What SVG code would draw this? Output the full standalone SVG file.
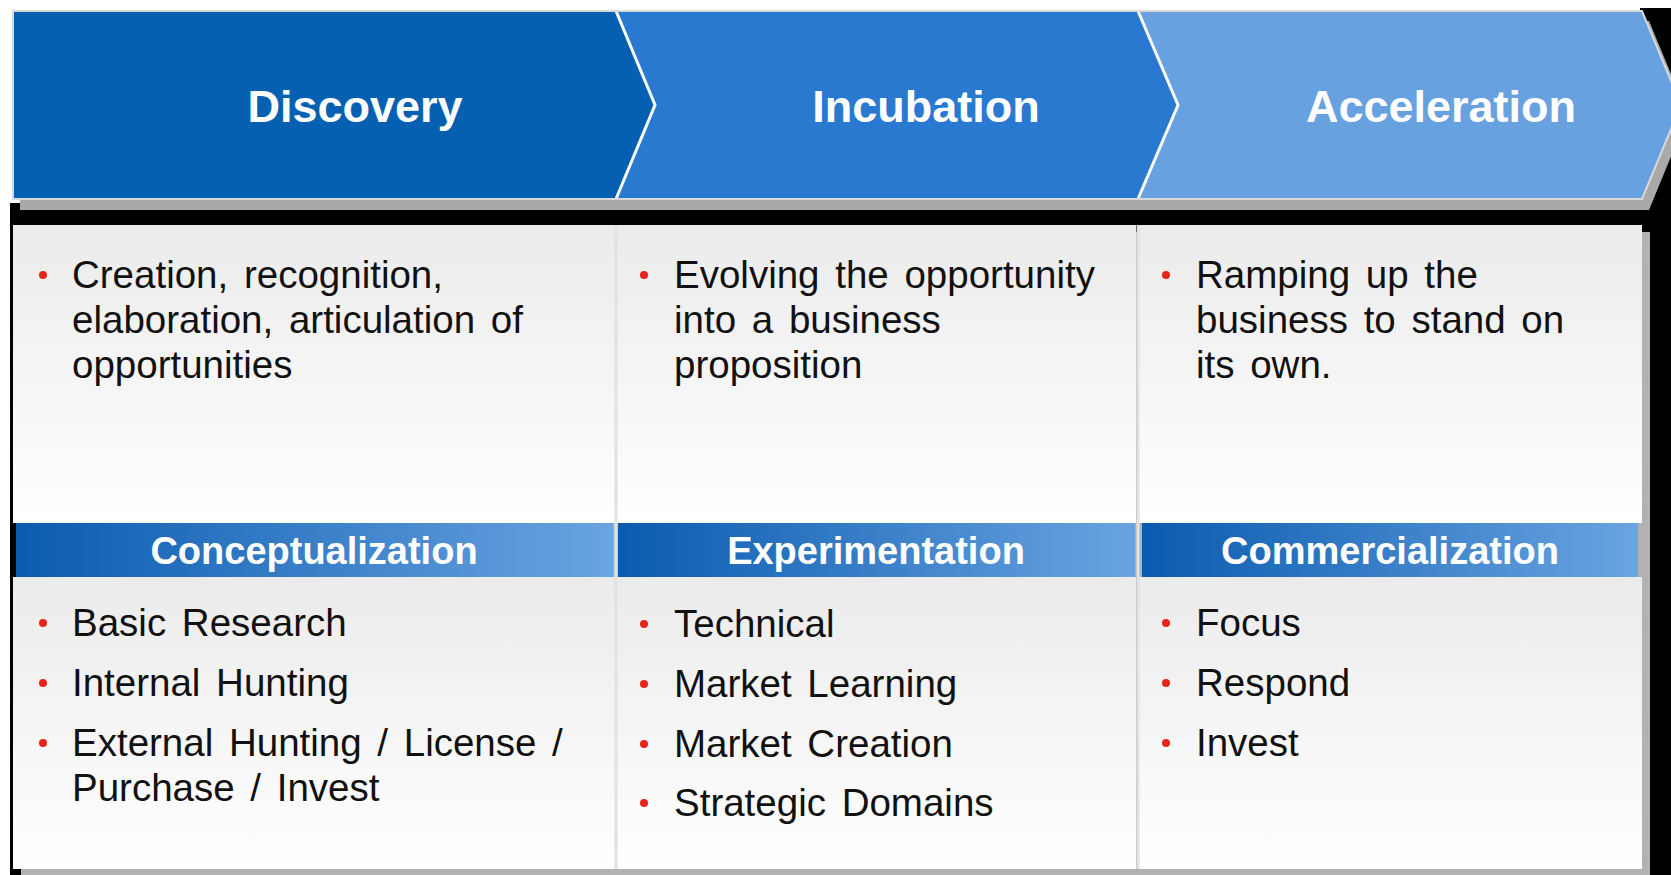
<svg xmlns="http://www.w3.org/2000/svg" width="1671" height="875" viewBox="0 0 1671 875">
  <defs>
    <linearGradient id="bodyGrad" x1="0" y1="0" x2="0" y2="1">
      <stop offset="0" stop-color="#ebebeb"/>
      <stop offset="1" stop-color="#ffffff"/>
    </linearGradient>
    <linearGradient id="subGrad" x1="0" y1="0" x2="1" y2="0">
      <stop offset="0" stop-color="#0a5bb0"/>
      <stop offset="1" stop-color="#6aa4e1"/>
    </linearGradient>
    <style>
      .hdr { font-family: "Liberation Sans", Arial, sans-serif; font-weight: bold; font-size: 45px; fill: #ffffff; text-anchor: middle; }
      .sub { font-family: "Liberation Sans", Arial, sans-serif; font-weight: bold; font-size: 38px; fill: #ffffff; text-anchor: middle; }
      .txt { font-family: "Liberation Sans", Arial, sans-serif; font-size: 38.5px; fill: #111111; word-spacing: 5px; }
      .bul { fill: #e8241a; }
      .sep { stroke: #ffffff; stroke-width: 3; fill: none; }
      .col { fill: url(#bodyGrad); }
      .band { fill: url(#subGrad); }
    </style>
  </defs>

  <rect x="0" y="0" width="1671" height="875" fill="#ffffff"/>
  <!-- dark backdrop -->
  <rect x="10" y="203" width="1661" height="672" fill="#000000"/>
  <rect x="1640" y="8" width="31" height="200" fill="#000000"/>

  <!-- header shadow -->
  <polygon points="20,21 1649,21 1688,115 1649,210 20,210" fill="#a9a9a9"/>
  <!-- body shadow -->
  <rect x="21" y="232" width="1629" height="643" fill="#b2b2b2"/>

  <g id="discovery">
    <polygon points="13,11 616,11 655,105 616,199 13,199" fill="#0560b2"/>
    <text class="hdr" x="355" y="122">Discovery</text>
  </g>
  <g id="incubation">
    <polygon points="616,11 1138,11 1178,105 1138,199 616,199 655,105" fill="#2a79d0"/>
    <text class="hdr" x="926" y="122">Incubation</text>
  </g>
  <g id="acceleration">
    <polygon points="1138,11 1642,11 1681,105 1642,199 1138,199 1178,105" fill="#67a1e0"/>
    <text class="hdr" x="1441" y="122">Acceleration</text>
  </g>
  <g id="header-separators">
    <polyline class="sep" points="616,11 655,105 616,199"/>
    <polyline class="sep" points="1138,11 1178,105 1138,199"/>
    <polygon points="13,11 1642,11 1681,105 1642,199 13,199" fill="none" stroke="#d8d8d8" stroke-width="2"/>
  </g>

  <!-- body columns -->
  <g id="col-discovery">
    <rect class="col" x="13" y="225" width="602" height="298"/>
    <rect class="col" x="13" y="577" width="602" height="292"/>
    <rect class="band" x="16" y="523" width="597" height="54"/>
    <text class="sub" x="314" y="564">Conceptualization</text>
    <circle class="bul" cx="43" cy="275" r="4"/>
    <text class="txt" x="72" y="288">Creation, recognition,</text>
    <text class="txt" x="72" y="333">elaboration, articulation of</text>
    <text class="txt" x="72" y="378">opportunities</text>
    <circle class="bul" cx="43" cy="623" r="4"/>
    <text class="txt" x="72" y="636">Basic Research</text>
    <circle class="bul" cx="43" cy="683" r="4"/>
    <text class="txt" x="72" y="696">Internal Hunting</text>
    <circle class="bul" cx="43" cy="743" r="4"/>
    <text class="txt" x="72" y="756">External Hunting / License /</text>
    <text class="txt" x="72" y="801">Purchase / Invest</text>
  </g>

  <g id="col-incubation">
    <rect class="col" x="617" y="225" width="519" height="298"/>
    <rect class="col" x="617" y="577" width="519" height="292"/>
    <rect class="band" x="618" y="523" width="517" height="54"/>
    <text class="sub" x="876" y="564">Experimentation</text>
    <circle class="bul" cx="644" cy="275" r="4"/>
    <text class="txt" x="674" y="288">Evolving the opportunity</text>
    <text class="txt" x="674" y="333">into a business</text>
    <text class="txt" x="674" y="378">proposition</text>
    <circle class="bul" cx="644" cy="624" r="4"/>
    <text class="txt" x="674" y="637">Technical</text>
    <circle class="bul" cx="644" cy="684" r="4"/>
    <text class="txt" x="674" y="697">Market Learning</text>
    <circle class="bul" cx="644" cy="744" r="4"/>
    <text class="txt" x="674" y="757">Market Creation</text>
    <circle class="bul" cx="644" cy="803" r="4"/>
    <text class="txt" x="674" y="816">Strategic Domains</text>
  </g>

  <g id="col-acceleration">
    <rect class="col" x="1139" y="225" width="503" height="298"/>
    <rect class="col" x="1139" y="577" width="503" height="292"/>
    <rect class="band" x="1142" y="523" width="496" height="54"/>
    <text class="sub" x="1390" y="564">Commercialization</text>
    <circle class="bul" cx="1166" cy="275" r="4"/>
    <text class="txt" x="1196" y="288">Ramping up the</text>
    <text class="txt" x="1196" y="333">business to stand on</text>
    <text class="txt" x="1196" y="378">its own.</text>
    <circle class="bul" cx="1166" cy="623" r="4"/>
    <text class="txt" x="1196" y="636">Focus</text>
    <circle class="bul" cx="1166" cy="683" r="4"/>
    <text class="txt" x="1196" y="696">Respond</text>
    <circle class="bul" cx="1166" cy="743" r="4"/>
    <text class="txt" x="1196" y="756">Invest</text>
  </g>

  <g id="connectors">
    <line x1="616" y1="225" x2="616" y2="869" stroke="#e2e2e2" stroke-width="3"/>
    <line x1="1138" y1="225" x2="1138" y2="869" stroke="#e2e2e2" stroke-width="3"/>
  </g>
</svg>
